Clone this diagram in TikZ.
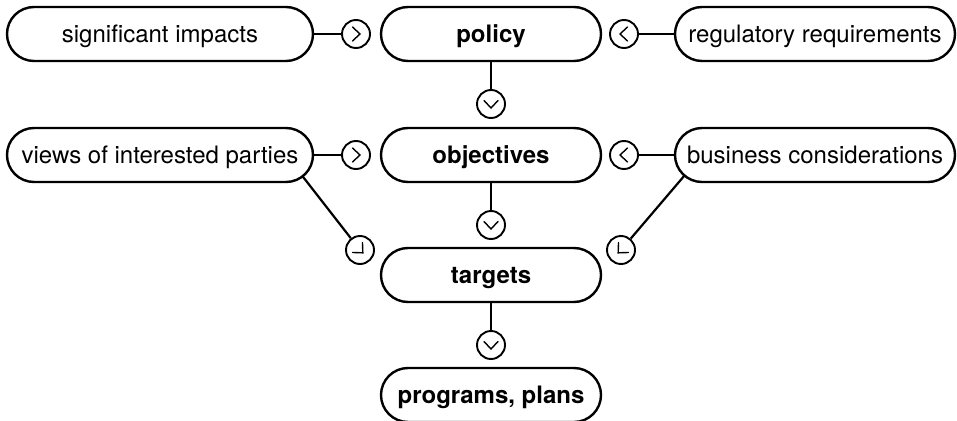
\documentclass[tikz,border=0pt]{standalone}
\usepackage{fontspec}
\setmainfont{TeX Gyre Heros}
\usetikzlibrary{calc}

\tikzset{
  pill/.style={draw, line width=2.4pt, rounded corners=27pt, minimum height=54pt,
    inner sep=0pt, text height=21pt, text depth=4pt, font=\fontsize{24}{28}\selectfont},
  sidebox/.style={pill, minimum width=306pt},
  rightbox/.style={pill, minimum width=280pt},
  mainbox/.style={pill, minimum width=220pt, font=\fontsize{24}{28}\selectfont\bfseries},
  gate/.style={circle, draw, line width=1.9pt, minimum size=28pt, inner sep=0pt},
  link/.style={line width=2.2pt},
  chevron/.style={line width=1.4pt, line cap=round, line join=miter}
}

% chevron inside a gate circle, pointing in the given direction
\newcommand{\gatemark}[2]{%
  \draw[chevron, shift={(#1.center)}, rotate=#2] (-3.5pt,-7pt) -- (4pt,0pt) -- (-3.5pt,7pt);}

\begin{document}
\begin{tikzpicture}[x=1pt, y=-1pt]
  \useasboundingbox (0,0) rectangle (957,420);

  % boxes
  \node[sidebox]  (sig)    at (160,34)  {significant impacts};
  \node[mainbox]  (policy) at (491,34)  {policy};
  \node[rightbox] (reg)    at (815,34)  {regulatory requirements};
  \node[sidebox]  (views)  at (160,155) {views of interested parties};
  \node[mainbox]  (obj)    at (491,155) {objectives};
  \node[rightbox] (bus)    at (815,155) {business considerations};
  \node[mainbox]  (tgt)    at (491,275) {targets};
  \node[mainbox]  (prog)   at (491,395) {programs, plans};

  % gates
  \node[gate] (g1) at (356,34)  {};
  \node[gate] (g2) at (624,34)  {};
  \node[gate] (g3) at (491,104) {};
  \node[gate] (g4) at (356,155) {};
  \node[gate] (g5) at (624,155) {};
  \node[gate] (g6) at (491,225) {};
  \node[gate] (g7) at (360,250) {};
  \node[gate] (g8) at (621,250) {};
  \node[gate] (g9) at (491,345) {};

  \gatemark{g1}{0}
  \gatemark{g2}{180}
  \gatemark{g3}{-90}
  \gatemark{g4}{0}
  \gatemark{g5}{180}
  \gatemark{g6}{-90}
  \gatemark{g7}{-45}
  \gatemark{g8}{-135}
  \gatemark{g9}{-90}

  % centres of the rounded ends feeding the diagonals
  \coordinate (viewsend) at (286,155);
  \coordinate (busend)   at (702,155);

  % connectors
  \draw[link] (sig.east) -- (g1);
  \draw[link] (reg.west) -- (g2);
  \draw[link] (policy.south) -- (g3);
  \draw[link] (views.east) -- (g4);
  \draw[link] (bus.west) -- (g5);
  \draw[link] (obj.south) -- (g6);
  \draw[link] (tgt.south) -- (g9);
  \draw[link, shorten <=27pt] (viewsend) -- (g7);
  \draw[link, shorten <=27pt] (busend) -- (g8);
\end{tikzpicture}
\end{document}
